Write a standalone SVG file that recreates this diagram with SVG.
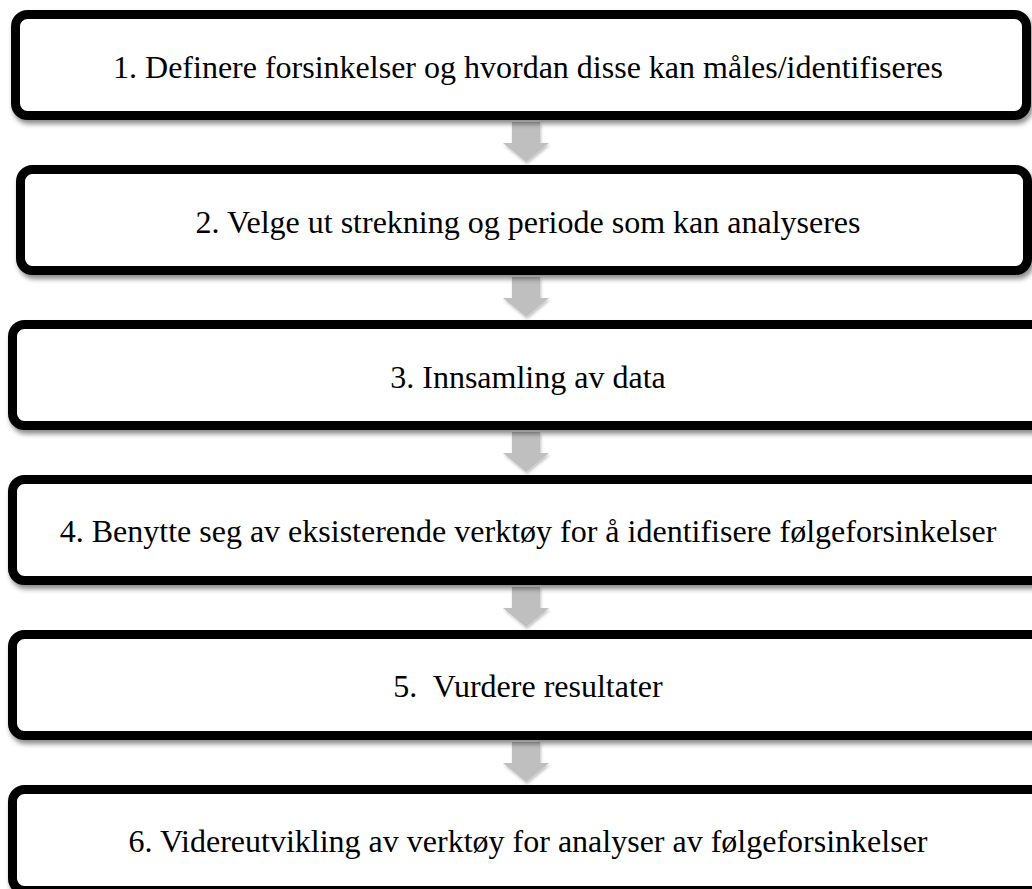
<svg xmlns="http://www.w3.org/2000/svg" width="1032" height="889" viewBox="0 0 1032 889">
<defs>
<filter id="sh" x="-5%" y="-20%" width="110%" height="150%">
<feDropShadow dx="2" dy="4" stdDeviation="2.5" flood-color="#000" flood-opacity="0.45"/>
</filter>
<filter id="ash" x="-50%" y="-50%" width="200%" height="200%">
<feDropShadow dx="1" dy="2" stdDeviation="1.5" flood-color="#000" flood-opacity="0.25"/>
</filter>
<path id="arr" d="M-14,0 H14 V21 H23 L0,40 L-23,21 H-14 Z"/>
</defs>
<style>
.box{fill:#fff;stroke:#000;stroke-width:9;filter:url(#sh)}
.t{font-family:"Liberation Serif","Times New Roman",serif;font-size:32px;fill:#000;text-anchor:middle}
.a{fill:#bfbfbf;filter:url(#ash)}
</style>
<g id="connectors">
<use href="#arr" class="a" x="526" y="122"/>
<use href="#arr" class="a" x="526" y="277"/>
<use href="#arr" class="a" x="526" y="432"/>
<use href="#arr" class="a" x="526" y="587"/>
<use href="#arr" class="a" x="526" y="742"/>
</g>
<g id="n1"><rect class="box" x="15.5" y="14.5" width="1011" height="101" rx="12"/><text class="t" x="528" y="78">1. Definere forsinkelser og hvordan disse kan måles/identifiseres</text></g>
<g id="n2"><rect class="box" x="20.5" y="169.5" width="1007" height="101" rx="12"/><text class="t" x="528" y="233">2. Velge ut strekning og periode som kan analyseres</text></g>
<g id="n3"><rect class="box" x="12.5" y="324.5" width="1035" height="101" rx="12"/><text class="t" x="528" y="388">3. Innsamling av data</text></g>
<g id="n4"><rect class="box" x="12.5" y="479.5" width="1035" height="101" rx="12"/><text class="t" x="528" y="542">4. Benytte seg av eksisterende verktøy for å identifisere følgeforsinkelser</text></g>
<g id="n5"><rect class="box" x="12.5" y="634.5" width="1035" height="101" rx="12"/><text class="t" x="528" y="697" xml:space="preserve">5.  Vurdere resultater</text></g>
<g id="n6"><rect class="box" x="12.5" y="789.5" width="1035" height="101" rx="12"/><text class="t" x="528" y="852">6. Videreutvikling av verktøy for analyser av følgeforsinkelser</text></g>
</svg>
